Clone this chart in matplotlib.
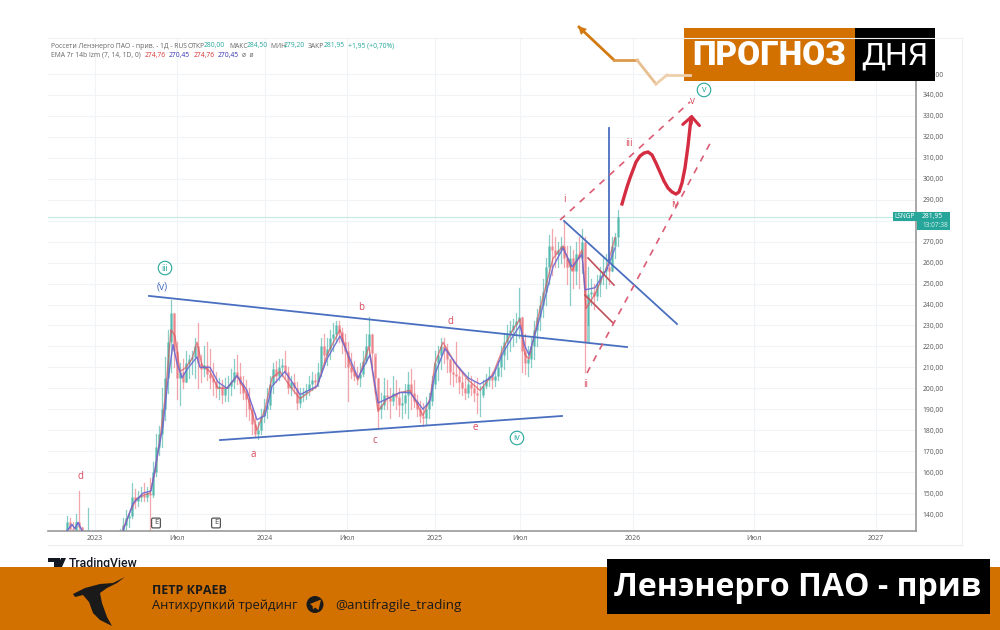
import matplotlib
matplotlib.use('Agg')
import matplotlib.pyplot as plt
from matplotlib.patches import Rectangle, Polygon, Circle, FancyBboxPatch

# positions on the time axis (the scale is not linear in the source, so it is kept in chart units)
year_ticks = [95, 177, 265, 347, 435, 520, 633, 754, 876]
year_labels = ['2023', 'Июл', '2024', 'Июл', '2025', 'Июл', '2026', 'Июл', '2027']
price_ticks = list(range(140, 360, 10))

early_pos = [67, 70, 73, 76, 79, 82, 88]
early_high = [139, 138, 136, 140, 151, 134, 143]
early_low = [130, 130, 130, 130, 130, 130, 130]
early_close = [136, 133, 132, 136, 134, 131, 132]
early_open = [131, 136, 133, 132, 136, 134, 131]

bar_high = [133, 138, 142, 140, 155, 152, 151, 153, 155, 153,
            157, 165, 178, 182, 200, 215, 228, 242, 236, 222,
            212, 214, 218, 216, 218, 224, 231, 216, 220, 222,
            219, 212, 208, 205, 204, 205, 206, 209, 214, 216,
            212, 206, 204, 200, 192, 188, 184, 190, 195, 200,
            206, 212, 213, 214, 214, 218, 210, 206, 207, 203,
            200, 200, 202, 206, 208, 207, 212, 224, 226, 224,
            228, 231, 232, 232, 229, 226, 222, 217, 213, 210,
            212, 218, 226, 234, 226, 215, 205, 198, 205, 204,
            200, 206, 204, 200, 198, 202, 208, 209, 204, 197,
            194, 193, 196, 198, 206, 218, 220, 224, 224, 221,
            214, 214, 222, 210, 208, 205, 208, 206, 203, 205,
            201, 204, 207, 210, 208, 209, 213, 220, 226, 230,
            232, 233, 236, 248, 234, 226, 220, 224, 232, 238,
            244, 252, 262, 273, 276, 272, 270, 272, 280, 268,
            268, 266, 270, 272, 276, 272, 258, 252, 250, 254,
            258, 262, 264, 262, 272, 274, 285]
bar_low = [130, 130, 131, 134, 138, 143, 144, 146, 146, 146,
           131, 148, 158, 168, 172, 185, 198, 208, 210, 195,
           192, 200, 203, 205, 207, 205, 200, 203, 206, 204,
           200, 197, 196, 195, 193, 194, 194, 197, 200, 202,
           198, 195, 187, 185, 178, 177, 176, 178, 184, 186,
           190, 198, 203, 204, 206, 205, 198, 197, 198, 190,
           191, 194, 195, 197, 199, 200, 201, 206, 212, 211,
           214, 218, 222, 222, 217, 210, 194, 205, 204, 202,
           201, 206, 212, 215, 210, 198, 181, 186, 190, 190,
           186, 192, 190, 187, 186, 188, 186, 190, 191, 187,
           184, 182, 183, 186, 192, 200, 204, 209, 212, 208,
           202, 201, 203, 198, 197, 195, 196, 197, 194, 188,
           187, 196, 200, 201, 200, 201, 204, 206, 209, 214,
           218, 220, 222, 224, 208, 207, 206, 210, 214, 220,
           228, 234, 240, 250, 254, 258, 258, 260, 258, 250,
           240, 248, 250, 248, 255, 208, 230, 240, 238, 242,
           244, 250, 248, 250, 256, 262, 268]
bar_close = [132, 135, 138, 139, 148, 146, 148, 149, 148, 150,
             149, 160, 172, 178, 190, 205, 222, 236, 218, 205,
             208, 203, 212, 214, 215, 220, 212, 209, 211, 207,
             205, 203, 200, 201, 197, 200, 201, 203, 208, 206,
             202, 198, 195, 190, 183, 178, 180, 187, 190, 192,
             202, 209, 206, 210, 211, 208, 200, 203, 200, 193,
             197, 198, 199, 202, 204, 203, 208, 220, 216, 219,
             224, 226, 230, 227, 222, 218, 210, 208, 206, 205,
             207, 213, 220, 226, 217, 205, 190, 192, 197, 196,
             194, 198, 196, 192, 193, 197, 202, 198, 194, 190,
             187, 186, 190, 194, 202, 212, 216, 220, 218, 214,
             208, 207, 206, 203, 200, 198, 202, 200, 198, 197,
             197, 201, 204, 206, 204, 206, 210, 216, 222, 226,
             228, 230, 232, 234, 218, 212, 214, 220, 228, 234,
             240, 246, 258, 268, 266, 264, 266, 268, 262, 258,
             262, 256, 264, 262, 270, 222, 245, 246, 244, 250,
             254, 256, 258, 256, 268, 272, 282]
bar_pos = [120 + 3 * i for i in range(len(bar_close))]

fast_pos = [123, 130, 136, 143, 150, 155, 160, 165, 171, 175, 180, 186, 192, 197, 202, 210, 218, 227, 237, 247,
            257, 265, 272, 280, 290, 300, 317, 327, 340, 350, 358, 369, 378, 387, 400, 410, 423, 430, 435, 443,
            455, 468, 480, 493, 503, 513, 520, 525, 529, 540, 553, 563, 572, 582, 586, 595, 607, 615]
fast_val = [133, 141, 147, 149, 150, 160, 176, 195, 228, 225, 208, 210, 214, 222, 211, 208, 200, 200, 206, 197,
            180, 190, 205, 208, 201, 195, 201, 216, 228, 212, 204, 220, 189, 195, 198, 199, 187, 195, 212, 222,
            212, 204, 199, 207, 219, 228, 233, 216, 214, 238, 262, 268, 256, 266, 238, 245, 258, 272]
slow_pos = [123, 133, 143, 151, 157, 163, 168, 173, 177, 182, 187, 197, 200, 210, 218, 227, 237, 247, 257, 265,
            272, 285, 292, 300, 317, 327, 340, 350, 358, 370, 378, 387, 400, 410, 423, 430, 435, 445, 457, 468,
            480, 493, 503, 513, 520, 525, 529, 540, 553, 563, 572, 582, 585, 595, 607, 615]
slow_val = [132, 145, 150, 151, 167, 182, 204, 221, 212, 205, 209, 215, 210, 210, 203, 200, 206, 199, 185, 187,
            201, 208, 203, 197, 201, 214, 225, 214, 205, 216, 193, 195, 198, 198, 190, 194, 207, 219, 211, 205,
            202, 206, 217, 225, 230, 220, 216, 234, 258, 267, 258, 264, 247, 248, 257, 267]
early_ema_pos = [67, 72, 75, 78, 82]
early_ema_val = [132, 135, 133, 136, 132]

# drawn analysis lines: (pos, pos), (price, price)
blue_lines = [([149, 627], [244.1, 219.7]),
              ([220, 562], [175.3, 186.8]),
              ([564, 677], [279.9, 230.7]),
              ([609, 609], [324.2, 260.3])]
red_lines = [([588, 614], [262.2, 249.3]),
             ([585, 613], [244.5, 231.2])]
dashed_lines = [([560, 690], [280.3, 336.7]),
                ([587, 713], [207.3, 319.5])]
forecast_pos = [622, 624, 627, 630, 633, 636, 640, 644, 648, 652, 656, 660, 664, 668, 672, 676, 679, 682, 685, 688, 691]
forecast_val = [288, 291.3, 296.1, 300.4, 304.2, 308, 310.9, 312.3, 312.8, 311.4, 307.5, 303.2, 298.9, 295.6, 293.7,
                292.7, 293.7, 298, 305.2, 315.7, 329]

wave_red = [('d', 80, 157.7), ('a', 253, 168.6), ('b', 361, 238.8), ('c', 375, 174.9), ('d', 451, 232.1),
            ('e', 475, 181.5), ('i', 564, 289.9), ('ii', 586, 202), ('iii', 629, 317), ('iv', 675, 287.5),
            ('v', 692, 337.1)]
wave_circled = [('iii', 165, 257.4), ('iv', 517, 176.3), ('v', 704, 342.4)]

plt.rcParams['font.family'] = ['Open Sans', 'DejaVu Sans']
GREEN = '#26a69a'
RED = '#e8606a'
ORANGE = '#d27000'

fig = plt.figure(figsize=(10, 6.3), dpi=100, facecolor='white')
ax = fig.add_axes([0.048, 1 - 531 / 630, 0.868, 493 / 630])
ax.set_xlim(48, 916)
ax.set_ylim(131.9, 367.2)
for s in ['top', 'left']:
    ax.spines[s].set_visible(False)
for s in ['right', 'bottom']:
    ax.spines[s].set_color('#9a9a9a')
    ax.spines[s].set_linewidth(1.2)
ax.yaxis.tick_right()
ax.set_yticks(price_ticks)
# the 280 label sits under the last price tag
ax.set_yticklabels(['' if p == 280 else '%d,00' % p for p in price_ticks], fontsize=4.9, color='#555555')
ax.set_xticks(year_ticks)
ax.set_xticklabels(year_labels, fontsize=5, color='#555555')
ax.tick_params(length=0)
ax.tick_params(axis='x', pad=3)
ax.tick_params(axis='y', pad=4.5)
ax.grid(color='#f0f4f7', linewidth=0.8)
ax.set_axisbelow(True)
ax.axhline(281.95, color='#c5e8e4', linewidth=0.8)


def draw_bars(pos, high, low, opens, close):
    for x, h, l, o, c in zip(pos, high, low, opens, close):
        col = GREEN if c >= o else RED
        ax.plot([x, x], [l, h], color=col, lw=0.9, alpha=0.55, zorder=2)
        ax.plot([x, x], [o, c], color=col, lw=2, alpha=0.5, zorder=2.2, solid_capstyle='butt')


draw_bars(early_pos, early_high, early_low, early_open, early_close)
draw_bars(bar_pos, bar_high, bar_low, [bar_close[0]] + bar_close[:-1], bar_close)

ax.plot(early_ema_pos, early_ema_val, color='#6a66d0', lw=1, zorder=3)
ax.plot(fast_pos, fast_val, color='#d9545c', lw=1, alpha=0.7, zorder=3)
ax.plot(slow_pos, slow_val, color='#6a66d0', lw=1, alpha=0.9, zorder=3.1)

for xs, ys in blue_lines:
    ax.plot(xs, ys, color='#4a6fc0', lw=1.3, zorder=4)
for xs, ys in red_lines:
    ax.plot(xs, ys, color='#c0505a', lw=1.2, zorder=4)
for xs, ys in dashed_lines:
    ax.plot(xs, ys, color='#dc5c74', lw=1.2, ls=(0, (4, 4)), zorder=4)
ax.plot(forecast_pos, forecast_val, color='#d42c40', lw=2.4, zorder=5, solid_joinstyle='round')
ax.annotate('', xy=(forecast_pos[-1] + 1, forecast_val[-1] + 3), xytext=(forecast_pos[-1], forecast_val[-1] - 4),
            arrowprops=dict(arrowstyle='->,head_length=0.6,head_width=0.6', color='#d42c40', lw=2.2), zorder=5)

for label, x, y in wave_red:
    ax.text(x, y, label, color='#d8485c', fontsize=7, ha='center', va='center', zorder=6)
for label, x, y in wave_circled:
    ax.text(x, y, label, color=GREEN, fontsize=6.5, ha='center', va='center', zorder=6,
            bbox=dict(boxstyle='circle,pad=0.25', fc='white', ec=GREEN, lw=0.8))
ax.text(162, 248.4, '(v)', color='#4a6fc0', fontsize=7.5, ha='center', va='center', zorder=6)

# overlay in pixels for the legend, price tags and the banners
ov = fig.add_axes([0, 0, 1, 1], zorder=10)
ov.set_xlim(0, 1000)
ov.set_ylim(630, 0)
ov.axis('off')
ov.patch.set_alpha(0)

ov.plot([48, 962], [545, 545], color='#ececec', lw=0.8)
ov.plot([962, 962], [38, 545], color='#f0f0f0', lw=0.8)
ov.plot([48, 962], [38, 38], color='#f0f0f0', lw=0.8)

for x in [156, 216]:
    ov.add_patch(FancyBboxPatch((x - 4, 518.5), 8, 9, boxstyle='round,pad=0.4,rounding_size=1.5',
                                fc='white', ec='#555555', lw=0.9))
    ov.text(x, 523, 'E', fontsize=5.5, color='#444444', ha='center', va='center')

# legend lines
legend_1 = [('Россети Ленэнерго ПАО - прив. - 1Д - RUS', '#666666', 51), ('ОТКР', '#666666', 188),
            ('280,00', GREEN, 204), ('МАКС', '#666666', 229), ('284,50', GREEN, 247),
            ('МИН', '#666666', 270), ('279,20', GREEN, 284), ('ЗАКР', '#666666', 308),
            ('281,95', GREEN, 324), ('+1,95 (+0,70%)', GREEN, 348)]
for txt, col, x in legend_1:
    ov.text(x, 46, txt, fontsize=4.9, color=col, va='center')
legend_2 = [('EMA 7r 14b lzm (7, 14, 1D, 0)', '#666666', 51), ('274,76', '#d23030', 145),
            ('270,45', '#3030b0', 169), ('274,76', '#d23030', 194), ('270,45', '#3030b0', 218),
            ('ø  ø', '#666666', 242)]
for txt, col, x in legend_2:
    ov.text(x, 55, txt, fontsize=4.9, color=col, va='center')

# last price tags
ov.add_patch(Rectangle((893, 212), 24, 9, fc=GREEN, ec='none'))
ov.add_patch(Rectangle((917, 212), 33, 18, fc=GREEN, ec='none'))
ov.text(905, 216.5, 'LSNGP', fontsize=4.7, color='white', ha='center', va='center')
ov.text(922, 216.5, '281,95', fontsize=4.9, color='white', va='center')
ov.text(922, 225.5, '13:07:38', fontsize=4.7, color='#d5f0ec', va='center')

# top banner with the trend arrow
arrow_parts = [([579, 614], [27, 60], '#d27a10'), ([614, 637], [60, 60], '#dc9a4c'),
               ([637, 656], [60, 84], '#e8bf90'), ([656, 667], [84, 75], '#efd0ac'), ([667, 690], [75, 75], '#efd0ac')]
for xs, ys, col in arrow_parts:
    ov.plot(xs, ys, color=col, lw=2)
ov.add_patch(Polygon([(578, 26), (587, 29), (581, 35)], fc='#d27a10', ec='none'))
ov.add_patch(Rectangle((684, 28), 171, 53, fc=ORANGE, ec='none'))
ov.add_patch(Rectangle((855, 28), 80, 53, fc='black', ec='none'))
ov.text(769.5, 56, 'ПРОГНОЗ', fontsize=24, fontweight='black', color='white', ha='center', va='center',
        family='Roboto')
ov.text(895, 56, 'ДНЯ', fontsize=23, fontweight='normal', color='white', ha='center', va='center',
        family='Roboto')

# tradingview mark, cut by the bottom band
ov.add_patch(Polygon([(48, 558), (60, 558), (60, 567), (54, 567), (54, 562), (48, 562)], fc='#131722', ec='none'))
ov.add_patch(Polygon([(61, 558), (66, 558), (62, 567), (57, 567)], fc='#131722', ec='none'))
ov.text(69, 563.5, 'TradingView', fontsize=8.8, fontweight='medium', color='#131722', va='center', family='Roboto')

# bottom banner
ov.add_patch(Rectangle((0, 567), 1000, 63, fc=ORANGE, ec='none', zorder=3))
ov.add_patch(Rectangle((607, 559), 383, 55, fc='black', ec='none', zorder=4))
ov.text(798, 588, 'Ленэнерго ПАО - прив', fontsize=23, fontweight='bold', color='white', ha='center',
        va='center', zorder=5)
bird = [(125, 577), (113, 583), (100, 584), (85, 588), (73, 594), (75, 597), (83, 595), (89, 602), (93, 613),
        (100, 620), (112, 626), (107, 617), (102, 603), (100, 593), (107, 588), (117, 583)]
ov.add_patch(Polygon(bird, fc='#1a1a1a', ec='none', zorder=4))
ov.text(152, 590, 'ПЕТР КРАЕВ', fontsize=9, fontweight='bold', color='#1a1a1a', va='center', zorder=5)
ov.text(152, 605, 'Антихрупкий трейдинг', fontsize=9.3, color='#1a1a1a', va='center', zorder=5)
ov.text(335, 605, '@antifragile_trading', fontsize=9.7, color='#1a1a1a', va='center', zorder=5)
ov.add_patch(Circle((315, 604.5), 8.5, fc='#1a1a1a', ec='none', zorder=4))
ov.add_patch(Polygon([(310, 604), (321, 599.5), (318.5, 610), (315, 607.5), (313, 609.5), (312.5, 606)],
                     fc=ORANGE, ec='none', zorder=5))

fig.savefig('out.png', dpi=100)
